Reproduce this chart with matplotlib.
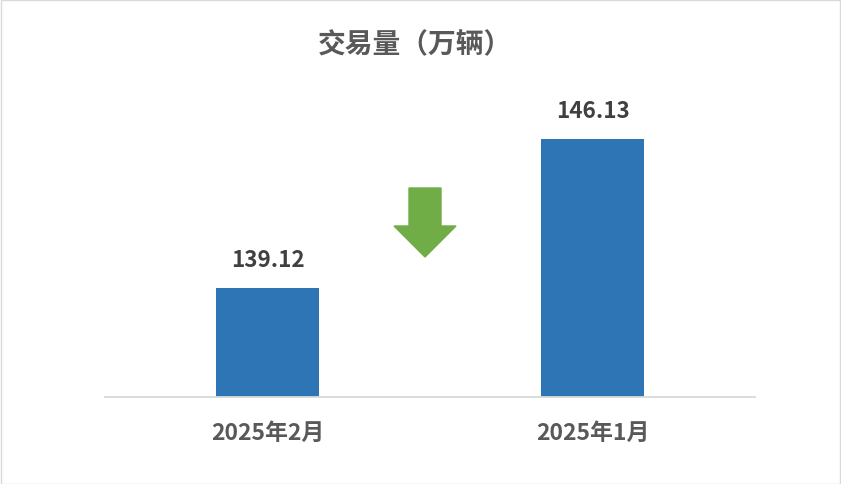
import matplotlib
matplotlib.use("Agg")
import matplotlib.pyplot as plt
from matplotlib.patches import Polygon, Rectangle

plt.rcParams['font.family'] = ['Noto Sans CJK SC', 'DejaVu Sans']

categories = ["2025年2月", "2025年1月"]
values = [139.12, 146.13]
title = "交易量（万辆）"

text_color = "#595959"
value_color = "#404040"
bar_color = "#2E75B6"

fig = plt.figure(figsize=(8.41, 4.85), dpi=100)
ax = fig.add_axes([105/841, 87/485, 650/841, (398-100.5)/485])

x = list(range(len(categories)))
bars = ax.bar(x, values, width=0.314, color=bar_color, zorder=2)
ax.set_xlim(-0.5, 1.5)
ax.set_ylim(134, 148)
ax.set_xticks(x)
ax.set_xticklabels(categories, fontsize=16.5, fontweight='bold', color=text_color)
ax.tick_params(axis='x', length=0, pad=17.5)
ax.set_yticks([])
for s in ['top', 'right', 'left']:
    ax.spines[s].set_visible(False)
ax.spines['bottom'].set_color('#D9D9D9')
ax.spines['bottom'].set_linewidth(1.3)

for b, v in zip(bars, values):
    ax.annotate(f"{v:.2f}", (b.get_x() + b.get_width()/2, v),
                xytext=(0, 20.5), textcoords='offset points',
                ha='center', va='center', fontsize=16.2, fontweight='bold',
                color=value_color)

# decrease arrow (decoration)
def px(xp, yp):
    return (xp/841, 1 - yp/485)
arrow_pts = [px(409, 189), px(441, 189), px(441, 227), px(456, 227),
             px(425, 258), px(394, 227), px(409, 227)]
fig.patches.append(Polygon(arrow_pts, closed=True, color='#70AD47',
                           transform=fig.transFigure, figure=fig))

fig.text(415/841, 1 - 45/485, title, ha='center', va='center',
         fontsize=20, fontweight='bold', color=text_color)

fig.patches.append(Rectangle((0.5/841, 0.5/485), 1 - 1.5/841, 1 - 1.5/485,
                             fill=False, edgecolor='#D9D9D9', linewidth=1,
                             transform=fig.transFigure, figure=fig))

fig.savefig("out.png", dpi=100)
